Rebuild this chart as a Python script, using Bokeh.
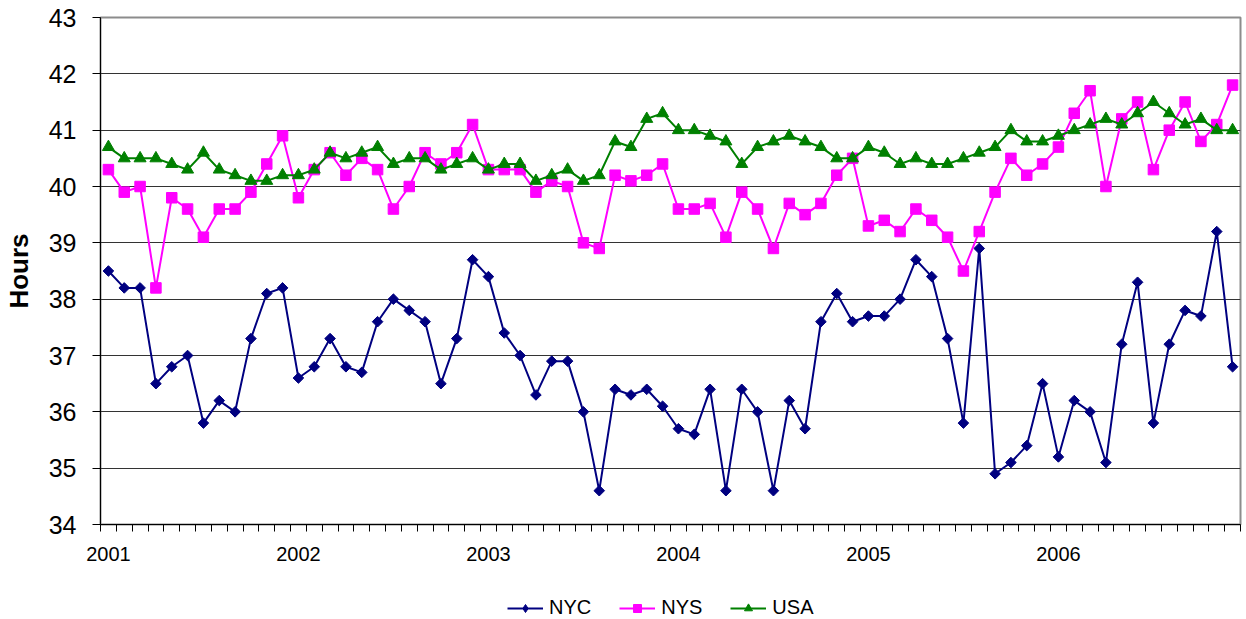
from bokeh.plotting import figure
from bokeh.layouts import column
from bokeh.models import (FixedTicker, Legend, LegendItem, Range1d, ColumnDataSource)
from bokeh.embed import file_html
from bokeh.resources import INLINE
import math

years = ["2001", "2002", "2003", "2004", "2005", "2006"]
months_per_year = 12

nyc = [38.5, 38.2, 38.2, 36.5, 36.8, 37.0, 35.8, 36.2, 36.0, 37.3, 38.1, 38.2,
       36.6, 36.8, 37.3, 36.8, 36.7, 37.6, 38.0, 37.8, 37.6, 36.5, 37.3, 38.7,
       38.4, 37.4, 37.0, 36.3, 36.9, 36.9, 36.0, 34.6, 36.4, 36.3, 36.4, 36.1,
       35.7, 35.6, 36.4, 34.6, 36.4, 36.0, 34.6, 36.2, 35.7, 37.6, 38.1, 37.6,
       37.7, 37.7, 38.0, 38.7, 38.4, 37.3, 35.8, 38.9, 34.9, 35.1, 35.4, 36.5,
       35.2, 36.2, 36.0, 35.1, 37.2, 38.3, 35.8, 37.2, 37.8, 37.7, 39.2, 36.8]

nys = [40.3, 39.9, 40.0, 38.2, 39.8, 39.6, 39.1, 39.6, 39.6, 39.9, 40.4, 40.9,
       39.8, 40.3, 40.6, 40.2, 40.5, 40.3, 39.6, 40.0, 40.6, 40.4, 40.6, 41.1,
       40.3, 40.3, 40.3, 39.9, 40.1, 40.0, 39.0, 38.9, 40.2, 40.1, 40.2, 40.4,
       39.6, 39.6, 39.7, 39.1, 39.9, 39.6, 38.9, 39.7, 39.5, 39.7, 40.2, 40.5,
       39.3, 39.4, 39.2, 39.6, 39.4, 39.1, 38.5, 39.2, 39.9, 40.5, 40.2, 40.4,
       40.7, 41.3, 41.7, 40.0, 41.2, 41.5, 40.3, 41.0, 41.5, 40.8, 41.1, 41.8]

usa = [40.7, 40.5, 40.5, 40.5, 40.4, 40.3, 40.6, 40.3, 40.2, 40.1, 40.1, 40.2,
       40.2, 40.3, 40.6, 40.5, 40.6, 40.7, 40.4, 40.5, 40.5, 40.3, 40.4, 40.5,
       40.3, 40.4, 40.4, 40.1, 40.2, 40.3, 40.1, 40.2, 40.8, 40.7, 41.2, 41.3,
       41.0, 41.0, 40.9, 40.8, 40.4, 40.7, 40.8, 40.9, 40.8, 40.7, 40.5, 40.5,
       40.7, 40.6, 40.4, 40.5, 40.4, 40.4, 40.5, 40.6, 40.7, 41.0, 40.8, 40.8,
       40.9, 41.0, 41.1, 41.2, 41.1, 41.3, 41.5, 41.3, 41.1, 41.2, 41.0, 41.0]

y_ticks = [34, 35, 36, 37, 38, 39, 40, 41, 42, 43]
series_names = ["NYC", "NYS", "USA"]
series_cols = ["nyc", "nys", "usa"]
series_colors = ["#000080", "#FF00FF", "#008000"]

n = len(nyc)
xs = [i + 0.5 for i in range(n)]
src = ColumnDataSource(dict(x=xs, nyc=nyc, nys=nys, usa=usa))

FONT = "Liberation Sans"

p = figure(frame_width=1140, frame_height=507, output_backend="svg", toolbar_location=None,
           x_range=Range1d(0, n), y_range=Range1d(y_ticks[0], y_ticks[-1]),
           min_border_left=100, min_border_right=6, min_border_top=17,
           min_border_bottom=60)
p.background_fill_color = "white"
p.border_fill_color = "white"
p.outline_line_color = "#8c8c8c"
p.outline_line_width = 2

marker_styles = [dict(marker="square", size=7.5, angle=math.pi / 4),
                 dict(marker="square", size=10.5, angle=0.0),
                 dict(marker="triangle", size=12, angle=0.0)]
# legend swatches ignore marker angle, so the NYC swatch uses a diamond
legend_marker_styles = [dict(marker="diamond", size=11),
                        dict(marker="square", size=10.5),
                        dict(marker="triangle", size=12)]

for col, c, ms in zip(series_cols, series_colors, marker_styles):
    p.line("x", col, source=src, line_color=c, line_width=2)
    p.scatter("x", col, source=src, fill_color=c, line_color=c, **ms)

# x axis: labels at January of each year, tick marks at month boundaries
xt = FixedTicker(ticks=[k * months_per_year + 0.5 for k in range(len(years))],
                 minor_ticks=list(range(n + 1)))
p.xaxis.ticker = xt
p.xaxis.major_label_overrides = {k * months_per_year + 0.5: y for k, y in enumerate(years)}
p.xaxis.major_tick_out = 0
p.xaxis.major_tick_in = 0
p.xaxis.minor_tick_out = 7
p.xaxis.minor_tick_in = 0
p.xaxis.minor_tick_line_color = "black"
p.xaxis.axis_line_color = "black"
p.xaxis.major_label_standoff = 15
p.xaxis.major_label_text_font = FONT
p.xaxis.major_label_text_font_size = "20px"
p.xaxis.major_label_text_color = "black"
p.xgrid.grid_line_color = None

p.yaxis.ticker = FixedTicker(ticks=y_ticks)
p.yaxis.major_tick_out = 8
p.yaxis.major_tick_in = 0
p.yaxis.minor_tick_out = 0
p.yaxis.minor_tick_line_color = None
p.yaxis.axis_line_color = "black"
p.yaxis.major_label_standoff = 16
p.yaxis.major_label_text_font = FONT
p.yaxis.major_label_text_font_size = "25px"
p.yaxis.major_label_text_color = "black"
p.yaxis.axis_label = "Hours"
p.yaxis.axis_label_text_font = FONT
p.yaxis.axis_label_text_font_size = "26px"
p.yaxis.axis_label_text_font_style = "bold"
p.yaxis.axis_label_text_color = "black"
p.yaxis.axis_label_standoff = 12
p.ygrid.grid_line_color = "#333333"
p.ygrid.grid_line_width = 1

# legend strip below the chart; its renderers share the series source but fall
# outside this strip's ranges, so only the legend swatches are visible
pl = figure(width=1246, height=35, output_backend="svg", toolbar_location=None,
            x_axis_location=None, y_axis_location=None, min_border=0,
            x_range=Range1d(0, 1), y_range=Range1d(0, 1))
pl.outline_line_color = None
pl.grid.grid_line_color = None
items = []
for name, col, c, ms in zip(series_names, series_cols, series_colors, legend_marker_styles):
    rl = pl.line("x", col, source=src, line_color=c, line_width=2)
    rm = pl.scatter("x", col, source=src, fill_color=c, line_color=c, **ms)
    items.append(LegendItem(label=name, renderers=[rl, rm]))
legend = Legend(items=items, orientation="horizontal", location=(407, 0))
legend.label_text_font = FONT
legend.label_text_font_size = "20px"
legend.label_text_color = "black"
legend.glyph_width = 36
legend.label_standoff = 6
legend.spacing = 28
legend.border_line_color = None
legend.background_fill_alpha = 0
legend.margin = 0
legend.padding = 0
pl.add_layout(legend, "center")

layout = column(p, pl, spacing=0)
open("out.html", "w").write(file_html(layout, INLINE))
